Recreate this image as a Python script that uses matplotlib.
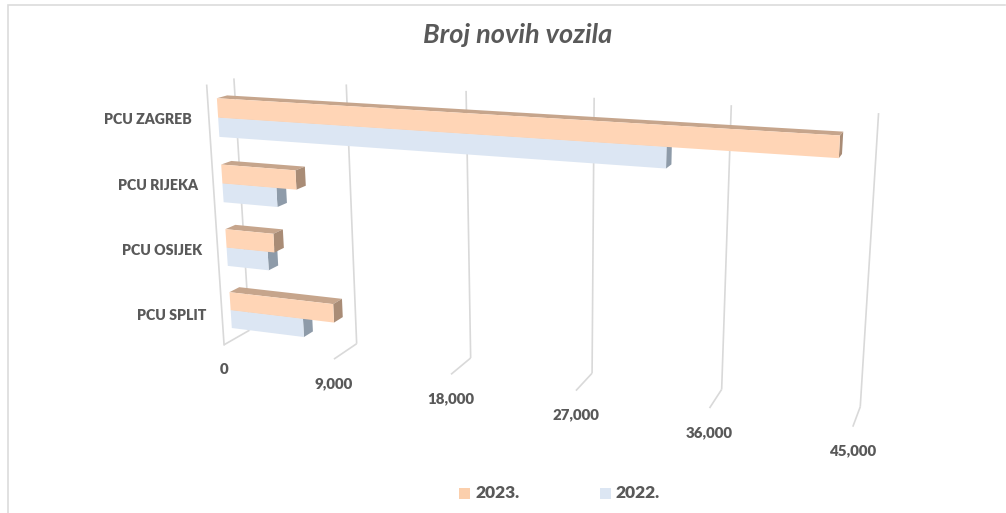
import numpy as np
import matplotlib
matplotlib.use("Agg")
import matplotlib.pyplot as plt
from matplotlib.lines import Line2D
from matplotlib.patches import Rectangle
from matplotlib.transforms import Transform

# ---- data ----
categories = ["PCU ZAGREB", "PCU RIJEKA", "PCU OSIJEK", "PCU SPLIT"]
values_2023 = [43100, 6000, 3950, 8500]
values_2022 = [32500, 4400, 3400, 6000]
series_names = ["2023.", "2022."]
ticks = [0, 9000, 18000, 27000, 36000, 45000]
title = "Broj novih vozila"
VMAX = 45000.0

W, H = 1006, 513
FONT = "Lato"
TXT = "#595959"
GRID = "#d9d9d9"

# ---- camera calibration: (value, height 0..1, depth 0=back 1=front) -> pixel ----
calib = [
    (0, 0, 0, 249, 331), (9000, 0, 0, 357, 343), (18000, 0, 0, 471, 358),
    (27000, 0, 0, 592, 373), (36000, 0, 0, 722, 389), (45000, 0, 0, 860, 407),
    (0, 1, 0, 234, 78), (9000, 1, 0, 346, 85), (18000, 1, 0, 466, 91),
    (27000, 1, 0, 594, 98), (36000, 1, 0, 731, 105), (45000, 1, 0, 879, 113),
    (0, 0, 1, 224, 345), (9000, 0, 1, 334, 359), (18000, 0, 1, 451, 374),
    (27000, 0, 1, 576, 391), (36000, 0, 1, 709, 408), (45000, 0, 1, 853, 427),
    (0, 1, 1, 207, 85),
]
rows = []
for v, h, d, px, py in calib:
    X = [v / VMAX, h, d, 1.0]
    rows.append(X + [0, 0, 0, 0] + [-px * c for c in X])
    rows.append([0, 0, 0, 0] + X + [-py * c for c in X])
P = np.linalg.svd(np.array(rows, float))[2][-1].reshape(3, 4)


def project(v, h, d):
    X = np.stack([np.asarray(v, float) / VMAX, np.asarray(h, float),
                  np.asarray(d, float), np.ones_like(np.asarray(v, float))], -1)
    q = X @ P.T
    return q[..., 0] / q[..., 2], H - q[..., 1] / q[..., 2]


class Plane(Transform):
    """Maps 2-D data on one plane of the 3-D chart box to display pixels."""
    input_dims = output_dims = 2
    is_affine = False
    has_inverse = False

    def __init__(self, kind, fixed):
        super().__init__()
        self.kind, self.fixed = kind, fixed

    def transform_non_affine(self, xy):
        xy = np.asarray(xy, float)
        a, b = xy[:, 0], xy[:, 1]
        f = np.full_like(a, self.fixed)
        if self.kind == "front":      # a=value, b=height
            x, y = project(a, b, f)
        elif self.kind == "top":      # a=value, b=depth
            x, y = project(a, f, b)
        else:                          # a=depth, b=height
            x, y = project(f, b, a)
        return np.column_stack([x, y])


fig = plt.figure(figsize=(W / 100, H / 100), dpi=100, facecolor="white")
ax = fig.add_axes([0, 0, 1, 1])
ax.set_xlim(0, 1)
ax.set_ylim(0, 1)
ax.set_autoscale_on(False)
ax.axis("off")

# outer frame: left and top edges only
fig.add_artist(Line2D([7.5 / W, 7.5 / W, 1005 / W], [0, 1 - 5 / H, 1 - 5 / H],
                      transform=fig.transFigure, color="#dcdcdc", lw=1.2,
                      solid_joinstyle="miter"))

# gridlines
for i, t in enumerate(ticks):
    ax.plot([t, t], [0, 1], transform=Plane("front", 0.0), color=GRID, lw=1.2, zorder=1,
            solid_capstyle="butt")
    ax.plot([t, t], [0, 1], transform=Plane("top", 0.0), color=GRID, lw=1.2, zorder=1,
            solid_capstyle="butt")
ax.plot([0, 0], [0, 1], transform=Plane("front", 1.0), color=GRID, lw=1.2, zorder=1)

# bars
D0, D1 = 0.29, 0.67
BH = 0.0725
n = len(categories)
centers = [1 - (i + 0.5) / n - 0.004 for i in range(n)]
styles = [
    (values_2022, -BH, "#DCE6F3", "#BFC8D3", "#8E9BA9", 3),
    (values_2023, 0.0, "#FFD5B6", "#C6A58C", "#A98C76", 4),
]
for vals, off, cf, ct, ce, z in styles:
    for c, val in zip(centers, vals):
        ax.barh([c + off + BH / 2], [val], height=BH, left=0, color=cf, lw=0, zorder=z + 0.3,
                transform=Plane("front", D1))
        ax.barh([(D0 + D1) / 2], [val], height=D1 - D0, left=0, color=ct, lw=0, zorder=z + 0.1,
                transform=Plane("top", c + off + BH))
        ax.bar([(D0 + D1) / 2], [BH], width=D1 - D0, bottom=c + off, color=ce, lw=0, zorder=z + 0.2,
               transform=Plane("end", val))


def put(x, y, s, **kw):
    fig.text(x / W, 1 - y / H, s, family=FONT, **kw)


# category labels
label_right = [192, 198, 202, 206]
label_y = [120, 186, 251, 315]
for s, x, y in zip(categories, label_right, label_y):
    put(x, y, s, ha="right", va="center", fontsize=10.2, fontweight="heavy", color=TXT)

# value labels
for t in ticks:
    x, y = project(t, 0.0, 1.0)
    put(float(x), H - float(y) + 24.5, f"{t:,}", ha="center", va="center", fontsize=10.8,
        fontweight="heavy", color=TXT)

put(518, 35, title, ha="center", va="center", fontsize=19.5, style="italic",
    fontweight="bold", color=TXT)

# legend
for name, col, sx in zip(series_names, ["#FBCFAC", "#DCE6F3"], [459, 600]):
    fig.add_artist(Rectangle((sx / W, 1 - 499 / H), 11 / W, 11 / H, transform=fig.transFigure,
                             fc=col, lw=0))
    put(sx + 16, 493, name, ha="left", va="center", fontsize=12.5, fontweight="heavy", color=TXT)

fig.savefig("out.png", dpi=100)
